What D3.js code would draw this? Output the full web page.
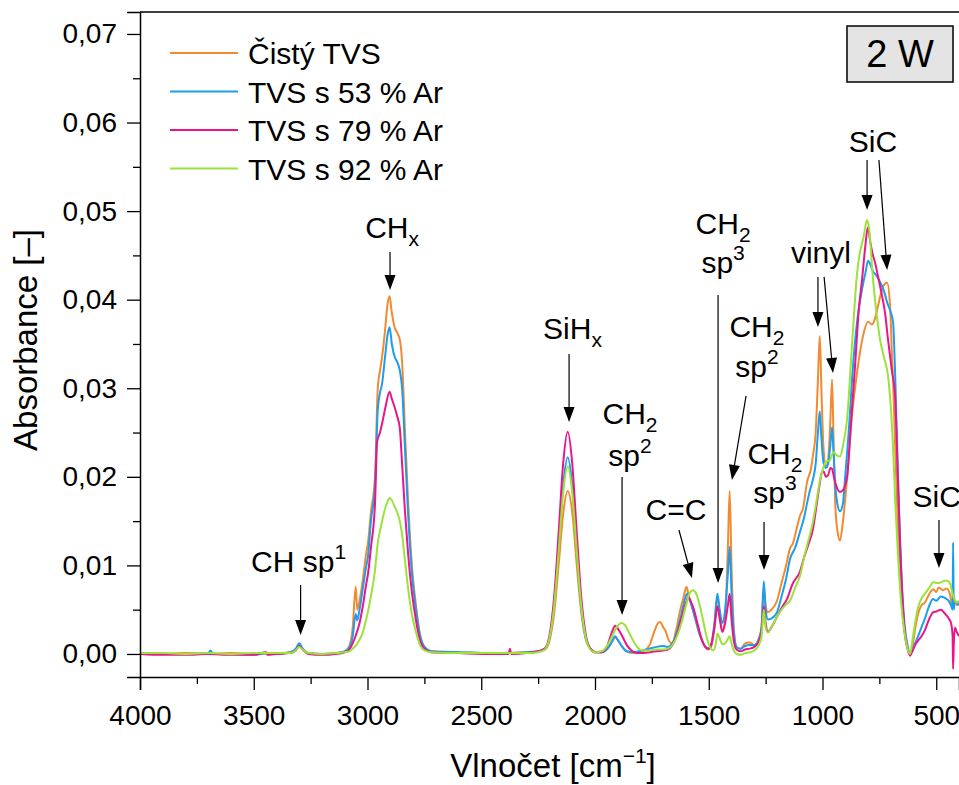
<!DOCTYPE html>
<html><head><meta charset="utf-8">
<script src="https://cdn.jsdelivr.net/npm/d3@7"></script>
<style>
body{margin:0;background:#fff}
svg{display:block}
text{font-family:"Liberation Sans",Arial,Helvetica,sans-serif;fill:#000}
</style>
</head><body>
<svg id="chart" width="959" height="785"></svg>
<script>
// ---------- DATA ----------
const seriesNames = ["Čistý TVS", "TVS s 53 % Ar", "TVS s 79 % Ar", "TVS s 92 % Ar"];
const seriesColors = ["#F28B30", "#1D9DF0", "#E8168A", "#9BE23A"];

// [wavenumber cm-1, absorbance]
const cistyTVS = [[4000,0.0001],[3900,0.0000],[3800,0.0001],[3700,0.0000],[3600,0.0001],[3500,0.0000],[3400,0.0001],[3340,0.0002],[3315,0.0005],[3300,0.0010],[3285,0.0006],[3260,0.0001],[3200,0.0000],[3140,0.0001],[3100,0.0003],[3080,0.0009],[3065,0.0030],[3052,0.0076],[3045,0.0050],[3035,0.0060],[3020,0.0085],[3005,0.0115],[2998,0.0125],[2985,0.0160],[2967,0.0200],[2955,0.0300],[2945,0.0320],[2936,0.0335],[2923,0.0365],[2912,0.0395],[2903,0.0404],[2893,0.0385],[2880,0.0368],[2870,0.0363],[2858,0.0355],[2848,0.0330],[2835,0.0250],[2822,0.0175],[2805,0.0100],[2787,0.0055],[2769,0.0022],[2750,0.0008],[2720,0.0003],[2600,0.0002],[2450,0.0001],[2380,0.0001],[2300,0.0002],[2250,0.0003],[2220,0.0005],[2200,0.0015],[2180,0.0045],[2160,0.0100],[2140,0.0158],[2120,0.0184],[2100,0.0160],[2080,0.0100],[2060,0.0046],[2040,0.0016],[2020,0.0006],[2000,0.0002],[1970,0.0002],[1945,0.0006],[1925,0.0014],[1912,0.0019],[1898,0.0015],[1880,0.0008],[1860,0.0003],[1830,0.0001],[1790,0.0003],[1760,0.0010],[1740,0.0025],[1725,0.0034],[1714,0.0036],[1700,0.0030],[1690,0.0026],[1675,0.0015],[1660,0.0012],[1645,0.0025],[1625,0.0050],[1610,0.0065],[1598,0.0076],[1590,0.0068],[1575,0.0055],[1560,0.0040],[1540,0.0022],[1520,0.0010],[1505,0.0005],[1490,0.0008],[1475,0.0030],[1462,0.0065],[1452,0.0045],[1440,0.0025],[1428,0.0040],[1416,0.0120],[1408,0.0184],[1400,0.0100],[1390,0.0030],[1378,0.0008],[1360,0.0006],[1340,0.0012],[1320,0.0013],[1300,0.0010],[1280,0.0018],[1268,0.0030],[1258,0.0073],[1250,0.0055],[1240,0.0047],[1225,0.0050],[1200,0.0060],[1180,0.0080],[1160,0.0100],[1143,0.0119],[1130,0.0125],[1115,0.0140],[1099,0.0156],[1085,0.0165],[1068,0.0194],[1050,0.0210],[1042,0.0224],[1030,0.0250],[1020,0.0310],[1012,0.0359],[1005,0.0300],[995,0.0230],[985,0.0212],[975,0.0220],[966,0.0260],[958,0.0310],[952,0.0250],[944,0.0170],[935,0.0140],[923,0.0128],[910,0.0150],[892,0.0198],[870,0.0270],[848,0.0318],[822,0.0359],[800,0.0375],[782,0.0372],[770,0.0378],[756,0.0393],[745,0.0405],[734,0.0415],[716,0.0419],[703,0.0393],[695,0.0340],[690,0.0310],[680,0.0230],[668,0.0140],[655,0.0070],[640,0.0025],[625,0.0005],[615,0.0000],[605,0.0008],[593,0.0028],[580,0.0045],[565,0.0055],[550,0.0058],[530,0.0068],[514,0.0073],[500,0.0070],[490,0.0075],[470,0.0072],[455,0.0074],[440,0.0068],[430,0.0055],[425,0.0065],[418,0.0060],[410,0.0055],[400,0.0060]];

const tvs53Ar = [[4000,0.0001],[3900,0.0000],[3800,0.0000],[3700,0.0001],[3690,0.0004],[3680,0.0000],[3600,0.0000],[3500,-0.0001],[3440,0.0001],[3400,0.0000],[3340,0.0002],[3315,0.0006],[3300,0.0012],[3285,0.0006],[3260,0.0001],[3200,0.0000],[3140,0.0001],[3100,0.0003],[3080,0.0007],[3065,0.0020],[3052,0.0045],[3045,0.0038],[3035,0.0050],[3020,0.0075],[3005,0.0100],[2998,0.0110],[2985,0.0150],[2967,0.0190],[2955,0.0275],[2945,0.0295],[2936,0.0305],[2923,0.0335],[2912,0.0360],[2903,0.0369],[2893,0.0350],[2880,0.0335],[2870,0.0330],[2858,0.0320],[2848,0.0300],[2835,0.0230],[2822,0.0160],[2805,0.0092],[2787,0.0050],[2769,0.0020],[2750,0.0008],[2720,0.0003],[2600,0.0002],[2450,0.0001],[2300,0.0002],[2250,0.0003],[2220,0.0006],[2200,0.0018],[2180,0.0055],[2160,0.0120],[2140,0.0190],[2120,0.0222],[2100,0.0190],[2080,0.0118],[2060,0.0052],[2040,0.0017],[2020,0.0006],[2000,0.0002],[1970,0.0002],[1945,0.0006],[1925,0.0014],[1912,0.0020],[1898,0.0015],[1880,0.0008],[1860,0.0003],[1830,0.0002],[1790,0.0004],[1760,0.0006],[1730,0.0008],[1700,0.0009],[1680,0.0008],[1660,0.0012],[1640,0.0025],[1620,0.0045],[1605,0.0062],[1595,0.0068],[1585,0.0062],[1570,0.0050],[1555,0.0036],[1540,0.0022],[1520,0.0010],[1505,0.0006],[1490,0.0010],[1475,0.0035],[1462,0.0068],[1452,0.0050],[1440,0.0035],[1428,0.0050],[1416,0.0090],[1408,0.0121],[1400,0.0070],[1390,0.0025],[1378,0.0008],[1360,0.0006],[1340,0.0009],[1320,0.0010],[1300,0.0010],[1280,0.0016],[1268,0.0030],[1258,0.0082],[1250,0.0050],[1240,0.0039],[1225,0.0040],[1200,0.0047],[1180,0.0065],[1160,0.0085],[1143,0.0107],[1120,0.0120],[1099,0.0138],[1080,0.0155],[1068,0.0170],[1055,0.0185],[1042,0.0197],[1030,0.0215],[1020,0.0250],[1012,0.0274],[1005,0.0245],[995,0.0215],[985,0.0210],[975,0.0215],[966,0.0235],[958,0.0256],[952,0.0230],[944,0.0190],[935,0.0170],[923,0.0161],[910,0.0170],[901,0.0198],[885,0.0250],[866,0.0325],[848,0.0375],[826,0.0412],[810,0.0432],[800,0.0444],[790,0.0440],[778,0.0432],[765,0.0428],[747,0.0420],[730,0.0410],[716,0.0397],[703,0.0388],[690,0.0375],[680,0.0310],[668,0.0198],[655,0.0100],[640,0.0035],[625,0.0008],[615,0.0000],[605,0.0005],[593,0.0012],[580,0.0020],[565,0.0030],[550,0.0040],[530,0.0055],[514,0.0062],[500,0.0060],[480,0.0065],[460,0.0063],[445,0.0060],[435,0.0055],[428,0.0050],[426,0.0126],[423,0.0050],[418,0.0060],[410,0.0058],[400,0.0055]];

const tvs79Ar = [[4000,0.0000],[3900,-0.0001],[3800,-0.0001],[3700,0.0000],[3600,-0.0001],[3500,-0.0001],[3445,0.0002],[3440,-0.0001],[3400,0.0000],[3340,0.0001],[3315,0.0004],[3300,0.0009],[3285,0.0005],[3260,0.0000],[3200,-0.0001],[3140,0.0000],[3100,0.0002],[3080,0.0005],[3065,0.0012],[3050,0.0022],[3035,0.0035],[3020,0.0055],[3005,0.0080],[2998,0.0090],[2985,0.0120],[2967,0.0170],[2958,0.0239],[2945,0.0250],[2936,0.0260],[2920,0.0280],[2903,0.0296],[2893,0.0288],[2885,0.0282],[2870,0.0269],[2858,0.0255],[2848,0.0215],[2835,0.0160],[2822,0.0115],[2805,0.0070],[2787,0.0038],[2769,0.0015],[2750,0.0006],[2720,0.0002],[2600,0.0001],[2450,0.0000],[2380,0.0000],[2374,0.0006],[2368,0.0000],[2300,0.0001],[2250,0.0003],[2220,0.0006],[2200,0.0021],[2180,0.0063],[2160,0.0136],[2140,0.0215],[2120,0.0251],[2100,0.0215],[2080,0.0136],[2060,0.0063],[2040,0.0021],[2020,0.0006],[2000,0.0002],[1970,0.0002],[1945,0.0010],[1925,0.0025],[1912,0.0032],[1898,0.0028],[1880,0.0020],[1860,0.0010],[1840,0.0004],[1815,0.0001],[1790,0.0001],[1760,0.0002],[1730,0.0003],[1700,0.0004],[1680,0.0005],[1660,0.0010],[1640,0.0022],[1620,0.0040],[1600,0.0058],[1590,0.0064],[1580,0.0060],[1565,0.0050],[1550,0.0035],[1535,0.0020],[1515,0.0008],[1500,0.0006],[1490,0.0010],[1475,0.0030],[1462,0.0054],[1452,0.0040],[1440,0.0025],[1428,0.0035],[1416,0.0055],[1408,0.0068],[1400,0.0040],[1390,0.0015],[1378,0.0005],[1360,0.0003],[1340,0.0005],[1320,0.0006],[1300,0.0008],[1280,0.0014],[1268,0.0025],[1258,0.0054],[1250,0.0035],[1240,0.0025],[1225,0.0030],[1200,0.0042],[1180,0.0052],[1156,0.0062],[1130,0.0080],[1099,0.0093],[1080,0.0110],[1060,0.0125],[1042,0.0141],[1025,0.0170],[1011,0.0194],[1003,0.0205],[995,0.0206],[985,0.0200],[975,0.0202],[965,0.0210],[958,0.0209],[950,0.0200],[940,0.0190],[923,0.0183],[910,0.0185],[892,0.0200],[875,0.0260],[857,0.0325],[840,0.0390],[826,0.0423],[812,0.0460],[800,0.0482],[790,0.0465],[778,0.0450],[769,0.0442],[755,0.0425],[738,0.0404],[725,0.0385],[712,0.0355],[695,0.0320],[681,0.0291],[670,0.0210],[660,0.0130],[650,0.0070],[640,0.0030],[625,0.0005],[615,-0.0002],[605,0.0003],[593,0.0010],[580,0.0015],[565,0.0020],[550,0.0027],[530,0.0040],[514,0.0047],[500,0.0048],[480,0.0050],[460,0.0045],[445,0.0040],[435,0.0035],[428,0.0020],[426,-0.0017],[423,0.0010],[418,0.0030],[410,0.0025],[400,0.0020]];

const tvs92Ar = [[4000,0.0001],[3900,0.0001],[3800,0.0000],[3700,0.0001],[3600,0.0000],[3500,0.0001],[3400,0.0001],[3340,0.0001],[3315,0.0004],[3300,0.0008],[3285,0.0005],[3260,0.0001],[3200,0.0000],[3140,0.0001],[3100,0.0002],[3080,0.0003],[3065,0.0006],[3050,0.0010],[3035,0.0016],[3020,0.0025],[3005,0.0040],[2998,0.0048],[2985,0.0065],[2967,0.0095],[2955,0.0125],[2940,0.0145],[2925,0.0162],[2912,0.0172],[2903,0.0176],[2890,0.0172],[2880,0.0166],[2870,0.0160],[2858,0.0150],[2848,0.0135],[2835,0.0105],[2822,0.0075],[2805,0.0045],[2787,0.0025],[2769,0.0010],[2750,0.0004],[2720,0.0002],[2600,0.0001],[2450,0.0001],[2300,0.0001],[2250,0.0002],[2220,0.0005],[2200,0.0018],[2180,0.0053],[2160,0.0115],[2140,0.0182],[2120,0.0212],[2100,0.0182],[2080,0.0115],[2060,0.0053],[2040,0.0018],[2020,0.0005],[2000,0.0002],[1970,0.0003],[1945,0.0010],[1925,0.0020],[1905,0.0030],[1885,0.0035],[1870,0.0033],[1850,0.0024],[1830,0.0014],[1815,0.0008],[1790,0.0004],[1760,0.0004],[1730,0.0005],[1700,0.0005],[1680,0.0006],[1660,0.0010],[1640,0.0020],[1620,0.0035],[1600,0.0055],[1585,0.0068],[1570,0.0072],[1555,0.0068],[1540,0.0055],[1525,0.0038],[1510,0.0020],[1495,0.0008],[1480,0.0004],[1470,0.0010],[1462,0.0023],[1452,0.0018],[1440,0.0011],[1428,0.0012],[1416,0.0017],[1408,0.0020],[1400,0.0012],[1390,0.0004],[1378,0.0000],[1360,-0.0001],[1340,0.0001],[1320,0.0002],[1300,0.0004],[1280,0.0010],[1268,0.0020],[1258,0.0050],[1250,0.0030],[1240,0.0024],[1225,0.0030],[1200,0.0042],[1180,0.0050],[1160,0.0056],[1143,0.0060],[1120,0.0075],[1099,0.0088],[1080,0.0110],[1060,0.0130],[1042,0.0149],[1025,0.0175],[1012,0.0195],[998,0.0209],[990,0.0215],[980,0.0218],[970,0.0218],[958,0.0225],[950,0.0228],[940,0.0225],[923,0.0223],[910,0.0235],[892,0.0265],[870,0.0350],[848,0.0430],[835,0.0454],[820,0.0470],[804,0.0490],[795,0.0480],[778,0.0423],[765,0.0390],[747,0.0355],[730,0.0335],[712,0.0314],[700,0.0280],[690,0.0235],[680,0.0170],[668,0.0110],[655,0.0060],[640,0.0025],[625,0.0005],[615,0.0000],[605,0.0015],[593,0.0035],[585,0.0047],[570,0.0060],[550,0.0068],[530,0.0075],[514,0.0081],[490,0.0080],[470,0.0082],[455,0.0083],[440,0.0080],[430,0.0070],[425,0.0065],[418,0.0060],[410,0.0058],[400,0.0060]];

const xMajorTicks = [4000, 3500, 3000, 2500, 2000, 1500, 1000, 500];
const xTickLabels = ["4000", "3500", "3000", "2500", "2000", "1500", "1000", "500"];
const xMinorTicks = [3750, 3250, 2750, 2250, 1750, 1250, 750];
const yMajorTicks = [0, 0.01, 0.02, 0.03, 0.04, 0.05, 0.06, 0.07];
const yTickLabels = ["0,00", "0,01", "0,02", "0,03", "0,04", "0,05", "0,06", "0,07"];
const yMinorTicks = [0.005, 0.015, 0.025, 0.035, 0.045, 0.055, 0.065];

// annotations: label position & arrows in data units (wavenumber, absorbance)
const annotations = [
  {x: 3303, lines: [{y: 0.00926, parts: [["CH sp", ""], ["1", "sup"]]}], arrows: [[3294, 0.00779, 3294, 0.00215]]},
  {x: 2892, lines: [{y: 0.04697, parts: [["CH", ""], ["x", "sub"]]}], arrows: [[2901, 0.04539, 2901, 0.04109]]},
  {x: 2099, lines: [{y: 0.03557, parts: [["SiH", ""], ["x", "sub"]]}], arrows: [[2114, 0.03387, 2114, 0.02619]]},
  {x: 1846, lines: [{y: 0.02597, parts: [["CH", ""], ["2", "sub"]]}, {y: 0.02123, parts: [["sp", ""], ["2", "sup"]]}], arrows: [[1881, 0.01998, 1881, 0.0044]]},
  {x: 1644, lines: [{y: 0.01513, parts: [["C=C", ""]]}], arrows: [[1631, 0.0140, 1574, 0.00858]]},
  {x: 1437, lines: [{y: 0.04742, parts: [["CH", ""], ["2", "sub"]]}, {y: 0.04302, parts: [["sp", ""], ["3", "sup"]]}], arrows: [[1459, 0.04053, 1459, 0.00802]]},
  {x: 1288, lines: [{y: 0.03579, parts: [["CH", ""], ["2", "sub"]]}, {y: 0.03127, parts: [["sp", ""], ["2", "sup"]]}], arrows: [[1336, 0.02913, 1398, 0.01965]]},
  {x: 1209, lines: [{y: 0.02145, parts: [["CH", ""], ["2", "sub"]]}, {y: 0.01705, parts: [["sp", ""], ["3", "sup"]]}], arrows: [[1257, 0.0149, 1257, 0.00948]]},
  {x: 1007, lines: [{y: 0.04415, parts: [["vinyl", ""]]}], arrows: [[1020, 0.04257, 1020, 0.03692], [993, 0.04257, 954, 0.03173]]},
  {x: 778, lines: [{y: 0.05668, parts: [["SiC", ""]]}], arrows: [[804, 0.05577, 804, 0.05013], [752, 0.05577, 716, 0.04336]]},
  {x: 604, anchor: "start", lines: [{y: 0.0166, parts: [["SiC", ""]]}], arrows: [[488, 0.01513, 488, 0.00971]]}
];
const powerLabel = "2 W";
const xTitle = "Vlnočet [cm";
const yTitle = "Absorbance [–]";

// ---------- CHART ----------
const M = {left: 140, top: 12, right: 959, bottom: 677};
const svg = d3.select("#chart");
const x = d3.scaleLinear().domain([4000, 400]).range([M.left, M.right]);
const y = d3.scaleLinear().domain([-0.0026, 0.07248]).range([M.bottom, M.top]);

svg.append("defs").append("clipPath").attr("id", "plotclip")
  .append("rect").attr("x", M.left).attr("y", M.top).attr("width", M.right - M.left).attr("height", M.bottom - M.top);

const allSeries = [cistyTVS, tvs53Ar, tvs79Ar, tvs92Ar];
const line = d3.line().x(d => x(d[0])).y(d => y(d[1])).curve(d3.curveMonotoneX);
const gLines = svg.append("g").attr("clip-path", "url(#plotclip)");
allSeries.forEach((s, i) => {
  gLines.append("path").datum(s).attr("d", line)
    .attr("fill", "none").attr("stroke", seriesColors[i]).attr("stroke-width", 2)
    .attr("stroke-linejoin", "round");
});

// frame
svg.append("line").attr("x1", M.left).attr("x2", M.right).attr("y1", M.top).attr("y2", M.top)
  .attr("stroke", "#000").attr("stroke-width", 1.5);

// x axis
const xAxis = d3.axisBottom(x).tickValues(xMajorTicks).tickFormat((d, i) => xTickLabels[i]).tickSizeOuter(0).tickSize(13).tickPadding(8);
const gx = svg.append("g").attr("transform", `translate(0,${M.bottom})`).call(xAxis);
gx.select(".domain").attr("stroke-width", 1.5);
gx.selectAll(".tick line").attr("stroke-width", 1.3);
gx.selectAll(".tick text").attr("font-size", 28).attr("font-family", "Liberation Sans, Arial, sans-serif").attr("dy", "0.95em");
const gxm = svg.append("g").attr("transform", `translate(0,${M.bottom})`)
  .call(d3.axisBottom(x).tickValues(xMinorTicks).tickFormat("").tickSizeOuter(0).tickSize(7));
gxm.select(".domain").remove();
gxm.selectAll(".tick line").attr("stroke-width", 1.3);

// y axis
const yAxis = d3.axisLeft(y).tickValues(yMajorTicks).tickFormat((d, i) => yTickLabels[i]).tickSizeOuter(0).tickSize(13).tickPadding(10);
const gy = svg.append("g").attr("transform", `translate(${M.left},0)`).call(yAxis);
gy.select(".domain").attr("stroke-width", 1.5);
gy.selectAll(".tick line").attr("stroke-width", 1.3);
gy.selectAll(".tick text").attr("font-size", 28).attr("font-family", "Liberation Sans, Arial, sans-serif");
const gym = svg.append("g").attr("transform", `translate(${M.left},0)`)
  .call(d3.axisLeft(y).tickValues(yMinorTicks).tickFormat("").tickSizeOuter(0).tickSize(7));
gym.select(".domain").remove();
gym.selectAll(".tick line").attr("stroke-width", 1.3);

// axis titles
const xt = svg.append("text").attr("x", 553).attr("y", 777).attr("text-anchor", "middle").attr("font-size", 33);
xt.append("tspan").text(xTitle);
xt.append("tspan").text("−1").attr("font-size", 21).attr("dy", -14);
xt.append("tspan").text("]").attr("dy", 14);

svg.append("text").attr("transform", "translate(37,340) rotate(-90)").attr("text-anchor", "middle")
  .attr("font-size", 33).text(yTitle);

// legend
const legend = svg.append("g");
seriesNames.forEach((n, i) => {
  const ly = 53 + i * 38.5;
  legend.append("line").attr("x1", 170).attr("x2", 238).attr("y1", ly).attr("y2", ly)
    .attr("stroke", seriesColors[i]).attr("stroke-width", 2);
  legend.append("text").attr("x", 248).attr("y", ly + 11).attr("font-size", 30).text(n);
});

// power box
svg.append("rect").attr("x", 847).attr("y", 26).attr("width", 106).attr("height", 56)
  .attr("fill", "#e4e4e4").attr("stroke", "#000").attr("stroke-width", 1.5);
svg.append("text").attr("x", 900).attr("y", 67).attr("text-anchor", "middle").attr("font-size", 38).text(powerLabel);

// annotations
const gA = svg.append("g");
annotations.forEach(a => {
  a.lines.forEach(l => {
    const t = gA.append("text").attr("x", x(a.x)).attr("y", y(l.y))
      .attr("text-anchor", a.anchor || "middle").attr("font-size", 30);
    let shift = 0;
    l.parts.forEach(p => {
      const ts = t.append("tspan").text(p[0]);
      let target = 0;
      if (p[1] === "sub") { target = 8; ts.attr("font-size", 21); }
      else if (p[1] === "sup") { target = -13; ts.attr("font-size", 21); }
      if (target !== shift) { ts.attr("dy", target - shift); shift = target; }
    });
  });
  a.arrows.forEach(ar => {
    const x1 = x(ar[0]), y1 = y(ar[1]), x2 = x(ar[2]), y2 = y(ar[3]);
    const dx = x2 - x1, dy = y2 - y1, len = Math.hypot(dx, dy);
    const ux = dx / len, uy = dy / len;
    const hl = 15, hw = 5.5;
    const bx = x2 - ux * hl, by = y2 - uy * hl;
    gA.append("line").attr("x1", x1).attr("y1", y1).attr("x2", bx).attr("y2", by)
      .attr("stroke", "#000").attr("stroke-width", 1.2);
    gA.append("path").attr("d", `M${x2},${y2}L${bx - uy * hw},${by + ux * hw}L${bx + uy * hw},${by - ux * hw}Z`)
      .attr("fill", "#000");
  });
});
</script>
</body></html>
